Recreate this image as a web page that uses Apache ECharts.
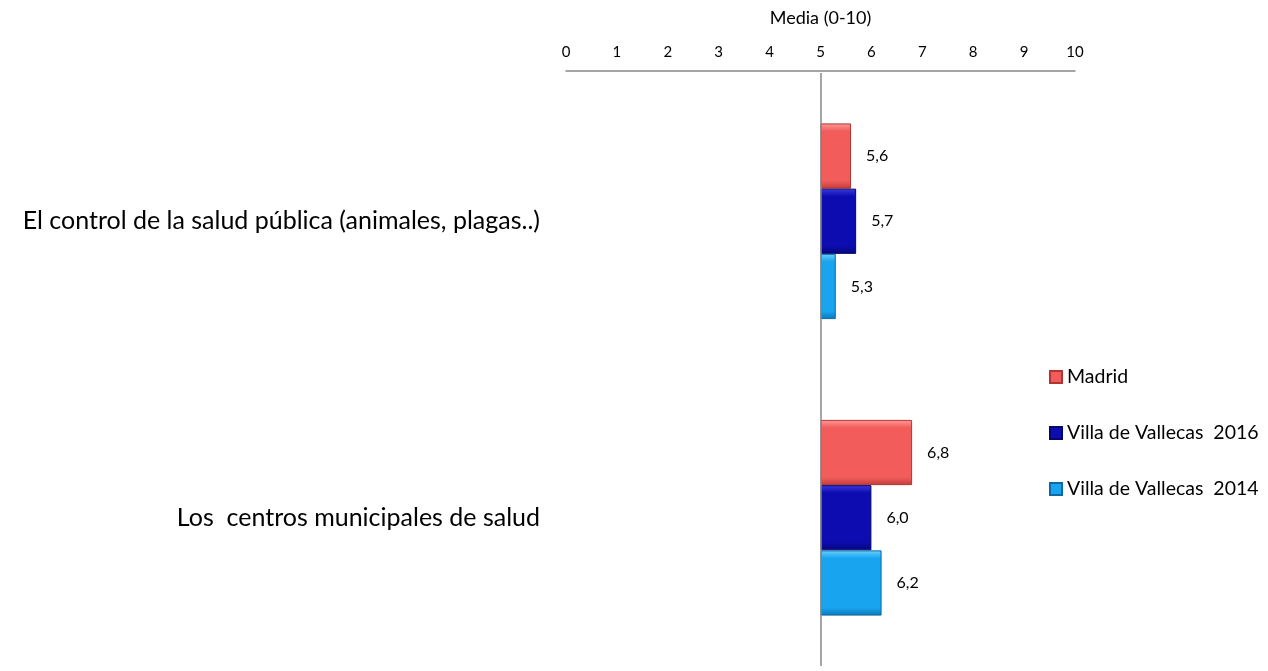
<!DOCTYPE html>
<html>
<head>
<meta charset="utf-8">
<script src="https://cdn.jsdelivr.net/npm/echarts@6/dist/echarts.min.js"></script>
<style>
html,body{margin:0;padding:0;background:#fff;}
#chart{width:1268px;height:671px;}
</style>
</head>
<body>
<div id="chart"></div>
<script>
var categories = ['El control de la salud pública (animales, plagas..)', 'Los  centros municipales de salud'];
var seriesNames = ['Madrid', 'Villa de Vallecas  2016', 'Villa de Vallecas  2014'];
var madrid = [5.6, 6.8];
var vallecas2016 = [5.7, 6.0];
var vallecas2014 = [5.3, 6.2];
var baseValue = 5;
var xTicks = [0, 1, 2, 3, 4, 5, 6, 7, 8, 9, 10];

var palettes = [
  {top: '#ff9a98', mid: '#f25d5b', bot: '#c23c3a', border: '#b03533'},
  {top: '#3a3ae0', mid: '#0c0cb0', bot: '#06067a', border: '#05056a'},
  {top: '#6fd0ff', mid: '#18a4ee', bot: '#0d78b8', border: '#0b6aa5'}
];
var values = [madrid, vallecas2016, vallecas2014];
var FONT = 'Lato, "Open Sans", sans-serif';

function grad(p) {
  return new echarts.graphic.LinearGradient(0, 0, 0, 1, [
    {offset: 0, color: p.top},
    {offset: 0.12, color: p.mid},
    {offset: 0.88, color: p.mid},
    {offset: 1, color: p.bot}
  ]);
}

var series = [];
values.forEach(function (vals, i) {
  series.push({
    name: '_base' + i,
    type: 'bar',
    stack: 's' + i,
    silent: true,
    itemStyle: {color: 'transparent'},
    data: vals.map(function () { return baseValue; }),
    barGap: '0%',
    barCategoryGap: '34%'
  });
  series.push({
    name: seriesNames[i],
    type: 'bar',
    stack: 's' + i,
    data: vals.map(function (v) { return +(v - baseValue).toFixed(2); }),
    itemStyle: {color: grad(palettes[i]), borderColor: palettes[i].border, borderWidth: 1},
    label: {
      show: true,
      position: 'right',
      distance: 15,
      fontFamily: FONT,
      fontSize: 16,
      color: '#000',
      formatter: function (p) { return vals[p.dataIndex].toFixed(1).replace('.', ','); }
    },
    barGap: '0%',
    barCategoryGap: '34%',
    markLine: i === 0 ? {
      silent: true,
      symbol: 'none',
      label: {show: false},
      lineStyle: {color: '#888', width: 1.5, type: 'solid'},
      data: [{xAxis: baseValue}]
    } : undefined
  });
});

var chart = echarts.init(document.getElementById('chart'));
chart.setOption({
  animation: false,
  backgroundColor: '#fff',
  textStyle: {fontFamily: FONT},
  grid: {left: 566, right: 193, top: 73, bottom: 5, containLabel: false},
  legend: {
    data: seriesNames,
    orient: 'vertical',
    left: 1044,
    top: 362,
    itemWidth: 12,
    itemHeight: 12,
    itemGap: 36,
    icon: 'rect',
    textStyle: {fontSize: 19.5, color: '#000', fontFamily: FONT}
  },
  xAxis: {
    type: 'value',
    position: 'top',
    offset: 2,
    min: xTicks[0],
    max: xTicks[xTicks.length - 1],
    interval: 1,
    name: 'Media (0-10)',
    nameLocation: 'middle',
    nameGap: 44,
    nameTextStyle: {fontSize: 18, color: '#000'},
    axisLine: {show: true, lineStyle: {color: '#888', width: 1.5}},
    axisTick: {show: false},
    splitLine: {show: false},
    axisLabel: {fontSize: 15, color: '#000', margin: 11}
  },
  yAxis: {
    type: 'category',
    inverse: true,
    data: categories,
    axisLine: {show: false},
    axisTick: {show: false},
    axisLabel: {fontSize: 25, color: '#000', margin: 26}
  },
  series: series
});
</script>
</body>
</html>
